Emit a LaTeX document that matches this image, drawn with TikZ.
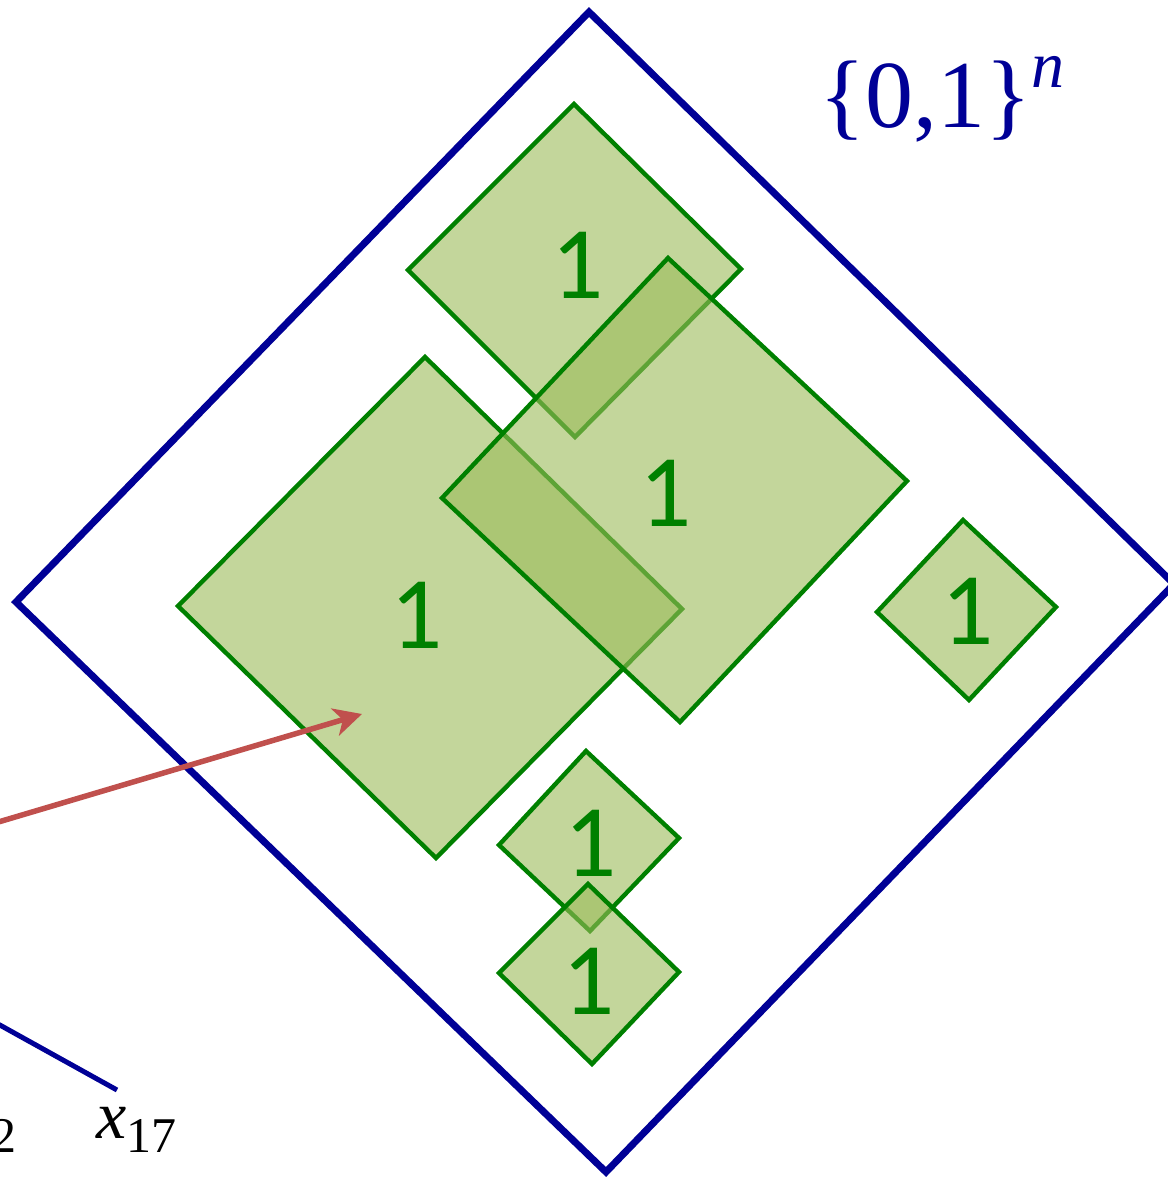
\documentclass[tikz,border=0pt]{standalone}
\usepackage{fontspec}
\setmainfont{Liberation Serif}
\newfontfamily\onefont{Carlito}
\usetikzlibrary{arrows.meta}
\definecolor{navy}{RGB}{0,0,150}
\definecolor{sqline}{RGB}{0,128,0}
\definecolor{sqfill}{RGB}{155,187,89}
\definecolor{arrred}{RGB}{192,80,77}
\tikzset{
  space/.style={draw=navy, line width=7pt, line join=miter},
  cube/.style={draw=sqline, line width=4.4pt, fill=sqfill, fill opacity=0.6, line join=miter},
  onelabel/.style={text=sqline, font=\onefont\fontsize{103}{103}\selectfont, inner sep=0pt},
  mathlabel/.style={text=black, font=\fontsize{68}{68}\selectfont, inner sep=0pt},
  pointer/.style={draw=arrred, line width=5.5pt, -{Stealth[length=28pt, width=28pt, inset=8pt]}}
}
\begin{document}
\begin{tikzpicture}[x=1pt,y=-1pt]
\useasboundingbox (0,0) rectangle (1168,1179);
% outer cube
\draw[space] (589,12) -- (1174,584) -- (606,1172) -- (16,602) -- cycle;
% subcubes
\draw[cube] (574,104) -- (741,269) -- (575,437) -- (408,270) -- cycle;
\draw[cube] (425,357) -- (682,609) -- (436,858) -- (178,606) -- cycle;
\draw[cube] (668,258) -- (907,481) -- (680,722) -- (442,498) -- cycle;
\draw[cube] (963,520) -- (1056,607) -- (969,700) -- (877,612) -- cycle;
\draw[cube] (586,751) -- (679,838) -- (590,931) -- (499,845) -- cycle;
\draw[cube] (588,884) -- (679,972) -- (592,1064) -- (499,973) -- cycle;
\node[onelabel] (l1) at (578,265) {1};
\node[onelabel] (l2) at (666,493) {1};
\node[onelabel] (l3) at (417,615) {1};
\node[onelabel] (l4) at (968,611) {1};
\node[onelabel] (l5) at (591,843) {1};
\node[onelabel] (l6) at (589,981) {1};
% label of the cube
\node[text=navy, font=\fontsize{96}{96}\selectfont, inner sep=0pt, anchor=base west] (cubelabel) at (819,127)
  {\{0,1\}\raisebox{40pt}{\fontsize{66}{66}\selectfont\itshape n}};
% decision-tree fragment
\coordinate (t0) at (-20,1014);
\coordinate (t1) at (117,1090);
\draw[navy, line width=5pt] (t0) -- (t1);
\node[mathlabel, anchor=base west] (x17) at (96,1138)
  {\itshape x\upshape\raisebox{-14pt}{\fontsize{50}{50}\selectfont 17}};
\node[mathlabel, anchor=base west] (x2) at (-9,1138)
  {\raisebox{-14pt}{\fontsize{50}{50}\selectfont 2}};
% pointer
\coordinate (a0) at (-5,823);
\coordinate (a1) at (362,714);
\draw[pointer] (a0) -- (a1);
\end{tikzpicture}
\end{document}
